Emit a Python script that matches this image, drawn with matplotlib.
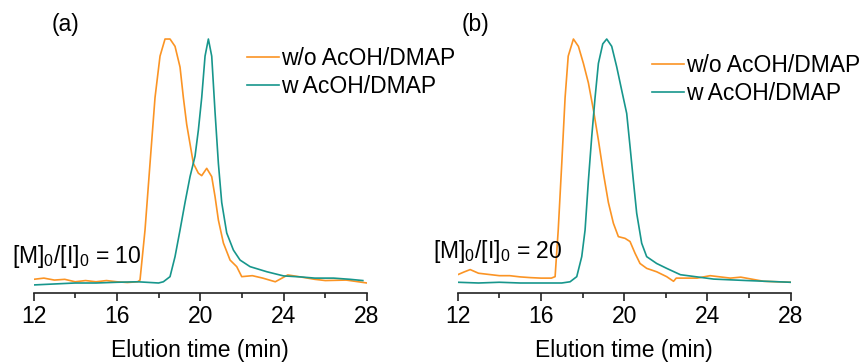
import matplotlib
matplotlib.use("Agg")
import matplotlib.pyplot as plt
from matplotlib.ticker import MultipleLocator

plt.rcParams["font.family"] = ["Liberation Sans", "DejaVu Sans"]
plt.rcParams["mathtext.fontset"] = "custom"
plt.rcParams["mathtext.rm"] = "Liberation Sans"
plt.rcParams["mathtext.it"] = "Liberation Sans:italic"

# panel (a), [M]0/[I]0 = 10
a_wo_x = [12.0, 12.5, 13.0, 13.5, 14.0, 14.5, 15.0, 15.5, 16.0, 16.5, 17.0, 17.11, 17.35,
          17.59, 17.83, 18.07, 18.31, 18.55, 18.79, 19.03, 19.19, 19.35, 19.51, 19.67,
          19.91, 20.07, 20.31, 20.55, 20.71, 20.87, 21.11, 21.43, 21.75, 21.99, 22.5,
          23.0, 23.6, 24.2, 24.8, 25.5, 26.0, 27.0, 28.0]
a_wo_y = [0.015, 0.02, 0.012, 0.015, 0.005, 0.01, 0.005, 0.01, 0.005, 0.002, 0.005, 0.012, 0.217,
          0.49, 0.76, 0.93, 1.0, 1.0, 0.97, 0.885, 0.76, 0.65, 0.57, 0.49,
          0.45, 0.44, 0.47, 0.436, 0.354, 0.258, 0.164, 0.094, 0.067, 0.026, 0.03,
          0.02, 0.005, 0.033, 0.025, 0.015, 0.01, 0.012, 0.0]
a_w_x = [12.0, 13.0, 14.0, 15.0, 16.0, 17.0, 18.0, 18.23, 18.55, 18.79, 19.03, 19.27, 19.51,
         19.75, 19.91, 20.07, 20.23, 20.39, 20.55, 20.71, 20.87, 21.03, 21.27, 21.59,
         21.91, 22.39, 23.2, 24.0, 24.8, 25.5, 26.4, 27.2, 27.8]
a_w_y = [-0.008, -0.004, 0.0, 0.0, 0.003, 0.005, 0.0, 0.005, 0.026, 0.108, 0.217, 0.33, 0.436,
         0.52, 0.627, 0.76, 0.93, 1.0, 0.93, 0.70, 0.49, 0.33, 0.205, 0.135,
         0.094, 0.067, 0.046, 0.029, 0.025, 0.02, 0.02, 0.015, 0.01]

# panel (b), [M]0/[I]0 = 20
b_wo_x = [12.0, 12.3, 12.6, 13.0, 13.5, 14.0, 14.5, 15.0, 15.5, 16.0, 16.5, 16.68, 16.83,
          17.0, 17.16, 17.31, 17.56, 17.8, 18.04, 18.28, 18.52, 18.76, 19.0, 19.24, 19.48,
          19.72, 20.04, 20.28, 20.52, 20.76, 21.08, 21.56, 22.04, 22.37, 22.5, 23.5,
          24.13, 25.1, 25.6, 26.7, 28.0]
b_wo_y = [0.034, 0.045, 0.055, 0.04, 0.035, 0.03, 0.03, 0.025, 0.022, 0.02, 0.02, 0.026, 0.217,
          0.49, 0.76, 0.93, 1.0, 0.97, 0.90, 0.82, 0.71, 0.586, 0.45, 0.33, 0.245,
          0.19, 0.183, 0.17, 0.122, 0.08, 0.06, 0.046, 0.026, 0.007, 0.02, 0.02,
          0.03, 0.02, 0.024, 0.007, 0.003]
b_w_x = [12.0, 13.0, 14.0, 15.0, 16.0, 17.0, 17.4, 17.72, 17.96, 18.12, 18.28, 18.44, 18.6,
         18.76, 18.97, 19.16, 19.4, 19.64, 19.88, 20.12, 20.28, 20.44, 20.6, 20.84,
         21.08, 21.56, 22.04, 22.7, 23.5, 24.3, 25.9, 28.0]
b_w_y = [0.003, 0.0, 0.003, 0.0, 0.0, 0.0, 0.005, 0.026, 0.108, 0.217, 0.42, 0.60, 0.76,
         0.90, 0.98, 1.0, 0.97, 0.886, 0.79, 0.695, 0.56, 0.42, 0.286, 0.163,
         0.108, 0.08, 0.06, 0.034, 0.025, 0.016, 0.01, 0.003]

labels = ["w/o AcOH/DMAP", "w AcOH/DMAP"]
ratios = ["10", "20"]
panels = ["(a)", "(b)"]

ORANGE = "#fb9424"
TEAL = "#17968c"
FS = 16.5

W, H = 866, 363
fig = plt.figure(figsize=(W / 100, H / 100), dpi=100)

def px_axes(x0, x1, y_top, y_bot):
    return fig.add_axes([x0 / W, 1 - y_bot / H, (x1 - x0) / W, (y_bot - y_top) / H])

axes = [px_axes(33.5, 367, 20, 293), px_axes(457.7, 790.7, 20, 293)]
data = [(a_wo_x, a_wo_y, a_w_x, a_w_y), (b_wo_x, b_wo_y, b_w_x, b_w_y)]
leg_pos = [(247, 47), (652, 54)]
ratio_pos = [(12, 263), (433, 258)]
panel_pos = [(52, 25), (462, 25)]

for i, ax in enumerate(axes):
    wx, wy, tx, ty = data[i]
    ax.plot(wx, wy, color=ORANGE, lw=1.2, label=labels[0])
    ax.plot(tx, ty, color=TEAL, lw=1.2, label=labels[1])
    ax.set_xlim(12, 28)
    ax.set_ylim(-0.041, 1.078)
    for s in ["top", "right", "left"]:
        ax.spines[s].set_visible(False)
    ax.spines["bottom"].set_linewidth(1.2)
    ax.spines["bottom"].set_color("#222222")
    ax.set_yticks([])
    ax.xaxis.set_major_locator(MultipleLocator(4))
    ax.xaxis.set_minor_locator(MultipleLocator(2))
    ax.tick_params(axis="x", which="major", direction="out", length=6, width=1.2,
                   labelsize=FS, pad=2.5, color="#222222")
    ax.tick_params(axis="x", which="minor", direction="out", length=3.5, width=1.2,
                   color="#222222")
    ax.set_xlabel("Elution time (min)", fontsize=FS, labelpad=8)
    ax.patch.set_alpha(0)

    lx, ly = leg_pos[i]
    ax.legend(loc="upper left", bbox_to_anchor=(lx / W, 1 - ly / H),
              bbox_transform=fig.transFigure, frameon=False, fontsize=FS,
              handlelength=1.4, handletextpad=0.08, labelspacing=0.2,
              borderpad=0, borderaxespad=0)

    rx, ry = ratio_pos[i]
    fig.text(rx / W, 1 - ry / H, r"[M]$_0$/[I]$_0$ = " + ratios[i], fontsize=FS,
             ha="left", va="baseline")
    tx_, ty_ = panel_pos[i]
    fig.text(tx_ / W, 1 - ty_ / H, panels[i], fontsize=FS, ha="left", va="center")

fig.savefig("out.png", dpi=100)
